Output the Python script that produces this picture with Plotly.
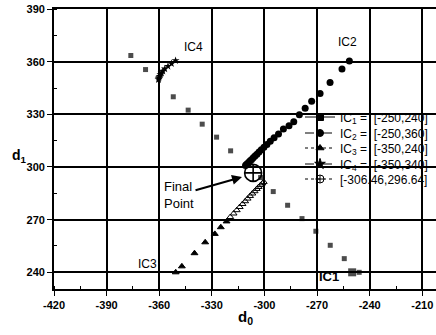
import plotly.graph_objects as go

# Trajectories in the (d0, d1) plane for four initial conditions
ic1_d0 = [-250.0, -246.0, -254.5, -262.5, -270.7, -278.6, -286.8, -295.0, -302.2,
          -319.3, -327.3, -335.5, -343.5, -352.0, -367.8, -376.2]
ic1_d1 = [240.0, 240.0, 247.8, 255.4, 263.4, 270.6, 278.2, 286.0, 294.0,
          309.2, 317.0, 324.4, 332.4, 340.0, 355.5, 363.5]

ic2_d0 = [-251.6, -255.8, -262.6, -268.3, -273.1, -276.8, -280.1, -283.3, -286.0,
          -289.2, -292.0, -294.5, -296.7, -298.6, -300.3, -301.8, -303.1, -304.3,
          -305.4, -306.4, -307.3, -308.1, -308.8, -309.4, -309.9, -310.4, -310.8]
ic2_d1 = [360.4, 355.8, 348.2, 341.9, 337.4, 333.4, 329.8, 325.8, 323.5,
          321.6, 318.8, 316.6, 314.6, 312.8, 311.2, 309.8, 308.5, 307.3,
          306.2, 305.2, 304.3, 303.5, 302.8, 302.2, 301.7, 301.3, 300.9]

ic3_d0 = [-350.6, -347.1, -339.9, -333.8, -328.3, -324.9, -321.6, -319.5, -317.6,
          -315.8, -314.1, -312.5, -311.0, -309.6, -308.2, -306.9, -305.6, -304.4,
          -303.3, -302.2, -301.2, -300.4]
ic3_d1 = [240.0, 243.4, 250.9, 257.1, 261.9, 265.7, 269.0, 271.5, 273.5,
          275.4, 277.2, 278.9, 280.5, 282.0, 283.5, 284.9, 286.2, 287.5,
          288.6, 289.7, 290.7, 291.5]

ic4_d0 = [-350.7, -353.0, -355.0, -356.8, -357.9, -358.7, -359.3, -359.8, -360.1,
          -360.3, -360.4]
ic4_d1 = [360.6, 358.9, 357.4, 355.9, 354.6, 353.5, 352.6, 351.7, 351.0,
          350.4, 349.8]

final_d0 = [-306.46]
final_d1 = [296.64]

legend_names = [
    "IC<sub>1</sub> =  [-250,240]",
    "IC<sub>2</sub> =  [-250,360]",
    "IC<sub>3</sub> =  [-350,240]",
    "IC<sub>4</sub> =  [-350,340]",
    "[-306.46,296.64]",
]

x_ticks = [-420, -390, -360, -330, -300, -270, -240, -210]
x_tick_labels = ["-420", "-390", "-360", "-330", "-300", "-270", "-240", "-210"]
y_ticks = [240, 270, 300, 330, 360, 390]
y_tick_labels = ["240", "270", "300", "330", "360", "390"]

FONT = "Arial, 'Liberation Sans', Helvetica, sans-serif"
INK = "black"

fig = go.Figure()

# data markers (no connecting lines)
fig.add_trace(go.Scatter(
    x=ic1_d0, y=ic1_d1, mode="markers", showlegend=False,
    marker=dict(symbol="square", color=INK,
                size=[8] + [5] * (len(ic1_d0) - 1), line=dict(width=0)),
))
fig.add_trace(go.Scatter(
    x=ic2_d0, y=ic2_d1, mode="markers", showlegend=False,
    marker=dict(symbol="circle", color=INK, size=7, line=dict(width=0)),
))
n_solid = 7
fig.add_trace(go.Scatter(
    x=ic3_d0, y=ic3_d1, mode="markers", showlegend=False,
    marker=dict(symbol=["triangle-up"] * n_solid
                + ["triangle-up-open"] * (len(ic3_d0) - n_solid),
                color=INK, size=6, line=dict(width=1, color=INK)),
))
fig.add_trace(go.Scatter(
    x=ic4_d0, y=ic4_d1, mode="markers", showlegend=False,
    marker=dict(symbol="star", color=INK, size=6, line=dict(width=0)),
))
fig.add_trace(go.Scatter(
    x=final_d0, y=final_d1, mode="markers", showlegend=False,
    marker=dict(symbol="circle-cross-open", color=INK, size=17,
                line=dict(width=1.6, color=INK)),
))

# legend entries (line + marker samples), one small legend box per row
legend_styles = [
    dict(dash="solid", symbol="square", size=7),
    dict(dash="dash", symbol="circle", size=7),
    dict(dash="dot", symbol="triangle-up", size=7),
    dict(dash="dashdot", symbol="star", size=8),
    dict(dash="dot", symbol="circle-cross-open", size=8),
]
legend_ids = ["legend", "legend2", "legend3", "legend4", "legend5"]
legend_tops = [102.5, 118.5, 133.5, 149.5, 164.5]  # pixel rows of each box top

for name, st, lid in zip(legend_names, legend_styles, legend_ids):
    fig.add_trace(go.Scatter(
        x=[None], y=[None], mode="lines+markers", name=name, legend=lid,
        line=dict(color=INK, width=1, dash=st["dash"]),
        marker=dict(symbol=st["symbol"], size=st["size"], color=INK,
                    line=dict(width=1, color=INK)),
    ))

plot_top, plot_h = 9, 280
legend_layout = {}
for lid, top in zip(legend_ids, legend_tops):
    legend_layout[lid] = dict(
        x=0.644, y=1 - (top - plot_top) / plot_h,
        xanchor="left", yanchor="top",
        bgcolor="rgba(0,0,0,0)", borderwidth=0,
        font=dict(family=FONT, size=12, color=INK),
    )

axis_common = dict(
    showgrid=True, gridcolor=INK, gridwidth=1.5,
    showline=True, linecolor=INK, linewidth=1.8,
    zeroline=False,
    ticks="outside", ticklen=5, tickwidth=1.2, tickcolor=INK,
    tickfont=dict(family=FONT, size=11, color=INK, weight="bold"),
    minor=dict(ticks="inside", ticklen=3, tickwidth=1, tickcolor=INK,
               showgrid=False, dtick=15),
)

fig.update_layout(
    width=436, height=335,
    margin=dict(l=54, r=0, t=plot_top, b=335 - plot_top - plot_h),
    paper_bgcolor="white", plot_bgcolor="white",
    font=dict(family=FONT, color=INK),
    xaxis=dict(range=[-420, -202.2], tickvals=x_ticks, ticktext=x_tick_labels,
               mirror=True, **axis_common),
    yaxis=dict(range=[230.5, 390], tickvals=y_ticks, ticktext=y_tick_labels,
               **axis_common),
    showlegend=True,
    **legend_layout,
)

annotations = [
    dict(x=-340.3, y=368.5, text="IC4", font=dict(size=12)),
    dict(x=-252.4, y=371.3, text="IC2", font=dict(size=12)),
    dict(x=-366.7, y=244.6, text="IC3", font=dict(size=12)),
    dict(x=-263.1, y=237.9, text="IC1", font=dict(size=13, weight="bold")),
]
for a in annotations:
    fig.add_annotation(xref="x", yref="y", showarrow=False,
                       font_family=FONT, font_color=INK, **a)

# arrow pointing at the converged point
fig.add_annotation(
    xref="x", yref="y", x=-312.8, y=294.3,
    text="Final<br>Point", showarrow=True,
    ax=-63, ay=18, arrowhead=2, arrowsize=1, arrowwidth=2, arrowcolor=INK,
    font=dict(family=FONT, size=13, color=INK), align="left",
)

# axis titles (both horizontal)
fig.add_annotation(xref="paper", yref="paper", x=(245 - 54) / 382, y=-0.1,
                   text="d<sub>0</sub>", showarrow=False, yanchor="middle",
                   font=dict(family=FONT, size=15, color=INK, weight="bold"))
fig.add_annotation(xref="paper", yref="paper", x=-0.115, y=(289 - 156) / 280,
                   text="d<sub>1</sub>", showarrow=False,
                   font=dict(family=FONT, size=14, color=INK, weight="bold"))

fig.write_html("out.html")
